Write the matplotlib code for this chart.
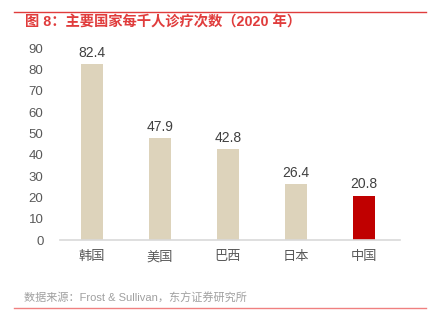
import matplotlib.pyplot as plt
from matplotlib.lines import Line2D

plt.rcParams['font.family'] = ['Liberation Sans', 'Noto Sans CJK SC', 'DejaVu Sans']

countries = ['韩国', '美国', '巴西', '日本', '中国']
visits = [82.4, 47.9, 42.8, 26.4, 20.8]
colors = ['#DDD3BB', '#DDD3BB', '#DDD3BB', '#DDD3BB', '#C00000']

fig = plt.figure(figsize=(4.3, 3.34), dpi=100)
ax = fig.add_axes([0.14, 0.281, 0.79, 0.575])

x = range(len(countries))
bars = ax.bar(x, visits, width=0.32, color=colors)
for xi, v in zip(x, visits):
    ax.text(xi, v + 2, f'{v}', ha='center', va='bottom', fontsize=10, color='#404040')

ax.set_xlim(-0.47, 4.53)
ax.set_ylim(0, 90)
ax.set_yticks(range(0, 100, 10))
ax.set_xticks(list(x))
ax.set_xticklabels(countries)
ax.tick_params(axis='both', length=0, colors='#595959', labelsize=9.5)
ax.tick_params(axis='x', pad=8)
ax.tick_params(axis='y', pad=12)
for s in ['top', 'right', 'left']:
    ax.spines[s].set_visible(False)
ax.spines['bottom'].set_color('#D9D9D9')
ax.spines['bottom'].set_linewidth(1.2)

# header and footer
fig.add_artist(Line2D([0.033, 0.99], [0.964, 0.964], color='#E03C3C', linewidth=1.0))
fig.text(0.058, 0.934, '图 8：主要国家每千人诊疗次数（2020 年）', fontsize=10.3, color='#E03C3C',
         fontweight='bold', va='center', ha='left')
fig.add_artist(Line2D([0.033, 0.99], [0.078, 0.078], color='#F08080', linewidth=1.0))
fig.text(0.055, 0.108, '数据来源：Frost & Sullivan，东方证券研究所', fontsize=8, color='#A0A0A0',
         va='center', ha='left')

fig.savefig('out.png', dpi=100)
